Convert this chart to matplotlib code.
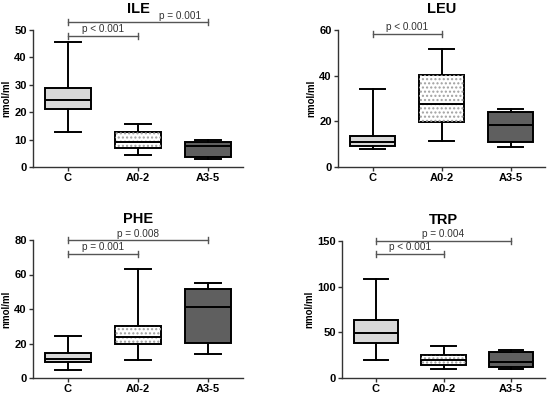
import matplotlib
matplotlib.use("Agg")
import matplotlib.pyplot as plt
from matplotlib.patches import PathPatch

plt.rcParams['font.family'] = ['Liberation Sans', 'DejaVu Sans']
plt.rcParams['hatch.linewidth'] = 1.0

groups = ['C', 'A0-2', 'A3-5']

# box stats per panel: (low whisker, Q1, median, Q3, high whisker) for C, A0-2, A3-5
ile = [(12.6, 21.0, 24.4, 29.0, 45.5), (4.3, 6.8, 9.3, 12.8, 15.6), (2.8, 3.8, 7.7, 9.3, 9.8)]
leu = [(8.0, 9.2, 11.0, 13.5, 34.1), (11.4, 19.9, 27.4, 40.4, 51.7), (8.8, 10.8, 18.6, 23.9, 25.5)]
phe = [(4.6, 9.1, 11.2, 14.7, 24.5), (10.4, 19.5, 23.7, 29.9, 63.0), (14.1, 20.2, 41.1, 51.5, 54.9)]
trp = [(20.0, 38.1, 49.0, 63.6, 108.2), (10.2, 14.2, 20.0, 25.4, 34.5), (10.2, 11.6, 17.1, 28.0, 30.5)]

titles = ['ILE', 'LEU', 'PHE', 'TRP']
ymax = [50, 60, 80, 150]
yticks = [[0, 10, 20, 30, 40, 50], [0, 20, 40, 60], [0, 20, 40, 60, 80], [0, 50, 100, 150]]

# significance brackets: (group from, group to, y level, label, label x)
ile_p = [(1, 3, 52.8, 'p = 0.001', 2.6), (1, 2, 47.9, 'p < 0.001', 1.5)]
leu_p = [(1, 2, 58.4, 'p < 0.001', 1.5)]
phe_p = [(1, 3, 79.8, 'p = 0.008', 2.0), (1, 2, 72.1, 'p = 0.001', 1.5)]
trp_p = [(1, 3, 150.0, 'p = 0.004', 2.0), (1, 2, 136.2, 'p < 0.001', 1.5)]

fills = ['#d9d9d9', 'white', '#5f5f5f']

W, H = 550, 397
# pixel boxes (left, right, top, bottom)
boxes = [(33, 243, 30, 167), (338, 545, 30, 167), (33, 243, 240, 378), (342, 545, 241, 378)]

fig = plt.figure(figsize=(5.5, 3.97), dpi=100)

panels = [ile, leu, phe, trp]
pvals = [ile_p, leu_p, phe_p, trp_p]

for i in range(4):
    l, r, t, b = boxes[i]
    ax = fig.add_axes([l / W, 1 - b / H, (r - l) / W, (b - t) / H])
    stats = []
    for g, s in zip(groups, panels[i]):
        stats.append(dict(label=g, whislo=s[0], q1=s[1], med=s[2], q3=s[3], whishi=s[4], fliers=[]))
    lw = 1.4
    bp = ax.bxp(stats, positions=[1, 2, 3], widths=0.66, patch_artist=True, showfliers=False,
                boxprops=dict(linewidth=lw, edgecolor='black'),
                medianprops=dict(color='black', linewidth=lw),
                whiskerprops=dict(color='black', linewidth=lw),
                capprops=dict(color='black', linewidth=lw),
                capwidths=0.36)
    for patch, fc in zip(bp['boxes'], fills):
        patch.set_facecolor(fc)
    # dotted pattern on the A0-2 box
    dots = PathPatch(bp['boxes'][1].get_path(), transform=bp['boxes'][1].get_transform(),
                     facecolor='none', edgecolor='#a0a0a0', hatch='....', linewidth=0, zorder=2.05)
    ax.add_patch(dots)

    ax.set_xlim(0.5, 3.5)
    ax.set_ylim(0, ymax[i])
    ax.set_yticks(yticks[i])
    ax.spines['top'].set_visible(False)
    ax.spines['right'].set_visible(False)
    for sp in ['left', 'bottom']:
        ax.spines[sp].set_linewidth(1.0)
        ax.spines[sp].set_color('#333333')
    ax.tick_params(axis='both', direction='out', length=3, width=1.0, color='#333333',
                   labelsize=8, pad=1.5)
    for lab in ax.get_xticklabels() + ax.get_yticklabels():
        lab.set_fontweight('bold')
    ax.set_ylabel('nmol/ml', fontsize=7, fontweight='bold', labelpad=2)
    ax.text(0.5, 1.15, titles[i], transform=ax.transAxes, ha='center', va='center',
            fontsize=10.5, fontweight='bold')

    cap = ymax[i] * 0.022
    for g1, g2, y, txt, tx in pvals[i]:
        ax.plot([g1, g2], [y, y], color='#555555', lw=1.0, clip_on=False)
        for g in (g1, g2):
            ax.plot([g, g], [y - cap, y + cap], color='#555555', lw=1.0, clip_on=False)
        ax.text(tx, y + cap * 0.5, txt, ha='center', va='bottom', fontsize=7.2, color='#333333')

fig.savefig('out.png', dpi=100)
